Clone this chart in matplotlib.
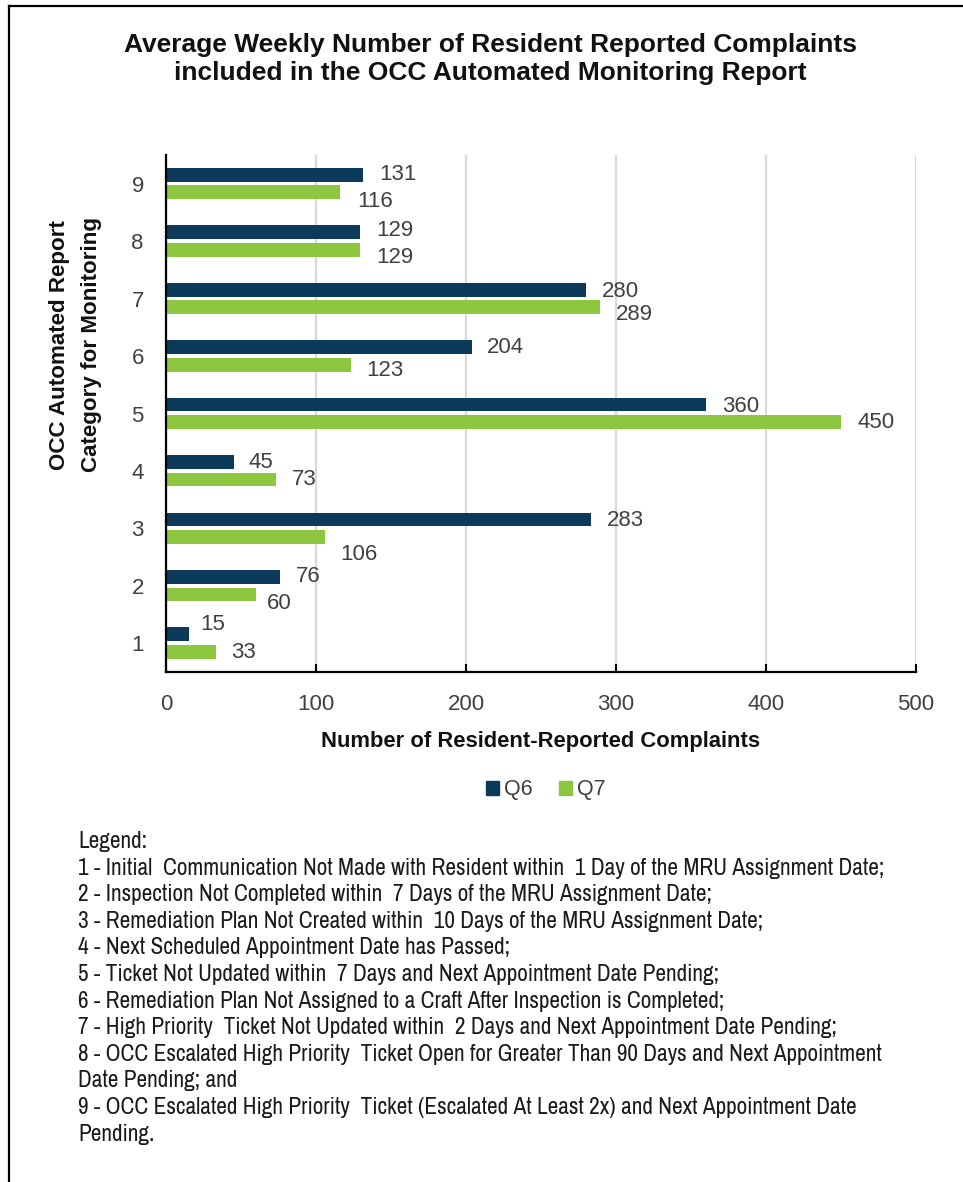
import matplotlib
matplotlib.use("Agg")
import matplotlib.pyplot as plt
from matplotlib import font_manager
from matplotlib.font_manager import FontProperties
from matplotlib.lines import Line2D
from matplotlib.patches import Patch
from matplotlib.textpath import TextPath
import numpy as np

categories = [1, 2, 3, 4, 5, 6, 7, 8, 9]
q6 = [15, 76, 283, 45, 360, 204, 280, 129, 131]
q7 = [33, 60, 106, 73, 450, 123, 289, 129, 116]
series_names = ["Q6", "Q7"]
x_ticks = [0, 100, 200, 300, 400, 500]

title_lines = [
    "Average Weekly Number of Resident Reported Complaints",
    "included in the OCC Automated Monitoring Report",
]
x_title = "Number of Resident-Reported Complaints"
y_title_lines = ["OCC Automated Report", "Category for Monitoring"]
legend_lines = [
    "Legend:",
    "1 - Initial  Communication Not Made with Resident within  1 Day of the MRU Assignment Date;",
    "2 - Inspection Not Completed within  7 Days of the MRU Assignment Date;",
    "3 - Remediation Plan Not Created within  10 Days of the MRU Assignment Date;",
    "4 - Next Scheduled Appointment Date has Passed;",
    "5 - Ticket Not Updated within  7 Days and Next Appointment Date Pending;",
    "6 - Remediation Plan Not Assigned to a Craft After Inspection is Completed;",
    "7 - High Priority  Ticket Not Updated within  2 Days and Next Appointment Date Pending;",
    "8 - OCC Escalated High Priority  Ticket Open for Greater Than 90 Days and Next Appointment",
    "Date Pending; and",
    "9 - OCC Escalated High Priority  Ticket (Escalated At Least 2x) and Next Appointment Date",
    "Pending.",
]

# label nudges in pixels (dx right, dy down), as placed in the original
q6_label_dx = [12, 16, 16, 15, 16, 15, 16, 17, 17]
q6_label_dy = [-10, 0, 1, 0, 2, 0, 2, -2, 0]
q7_label_dx = [16, 11, 15, 16, 16, 16, 16, 17, 17]
q7_label_dy = [1, 9, 17, 0, 0, 6, 7, 8, 9]

NAVY = "#0c3a5b"
GREEN = "#8dc63f"
GRAY = "#404040"
INK = "#111111"
REGULAR = "Liberation Sans"


def narrow_font(bold):
    # an installed narrow / condensed sans face, if there is one
    best = None
    for f in font_manager.fontManager.ttflist:
        condensed = ("Narrow" in f.name or "Condensed" in f.name
                     or f.stretch in ("condensed", "semi-condensed", "extra-condensed"))
        if not condensed or "Mono" in f.name or "Serif" in f.name or f.style != "normal":
            continue
        w = f.weight if isinstance(f.weight, int) else (700 if f.weight == "bold" else 400)
        if (w >= 600) != bold:
            continue
        score = 0 if "Narrow" in f.name else 1
        if best is None or score < best[0]:
            best = (score, f.fname)
    return FontProperties(fname=best[1]) if best else None


def candidates(bold):
    out = [FontProperties(family=REGULAR, weight="bold" if bold else "normal")]
    nf = narrow_font(bold)
    if nf is not None:
        out.append(nf)
    return out


W, H = 963, 1182
fig = plt.figure(figsize=(W / 100, H / 100), dpi=100)
renderer = fig.canvas.get_renderer()


def fx(px):
    return px / W


def fy(py):
    return 1 - py / H


def pick(s, width_px, cap_px, bold):
    # choose face and size so the text spans width_px with caps about cap_px tall
    best = None
    for fp in candidates(bold):
        t = fig.text(0, 0, s, fontproperties=fp, fontsize=10)
        w10 = t.get_window_extent(renderer).width
        t.remove()
        cap_ratio = TextPath((0, 0), "H", size=100, prop=fp).get_extents().height / 100
        size_w = 10 * width_px / w10
        size_h = cap_px / (cap_ratio * 100 / 72)
        size = min(size_w, size_h)
        score = min(size / size_w, size / size_h)
        if best is None or score > best[0] + 0.02:
            best = (score, fp, size)
    return best[1], best[2]


ax = fig.add_axes([fx(166), fy(672), fx(916) - fx(166), (672 - 155) / H])

y = np.array(categories)
ax.barh(y + 0.155, q6, height=0.24, color=NAVY, label=series_names[0], zorder=3)
ax.barh(y - 0.15, q7, height=0.24, color=GREEN, label=series_names[1], zorder=3)

for i, cat in enumerate(categories):
    ax.annotate(str(q6[i]), (q6[i], cat + 0.155),
                xytext=(q6_label_dx[i] * 0.72, -q6_label_dy[i] * 0.72),
                textcoords="offset points", va="center", ha="left",
                fontsize=16, color=GRAY, family=REGULAR)
    ax.annotate(str(q7[i]), (q7[i], cat - 0.15),
                xytext=(q7_label_dx[i] * 0.72, -q7_label_dy[i] * 0.72),
                textcoords="offset points", va="center", ha="left",
                fontsize=16, color=GRAY, family=REGULAR)

ax.set_xlim(0, 500)
ax.set_ylim(0.5, 9.5)
ax.set_xticks(x_ticks)
ax.set_yticks(categories)
ax.set_yticklabels([str(c) for c in categories], family=REGULAR, fontsize=16, color=GRAY)
ax.set_xticklabels([str(t) for t in x_ticks], family=REGULAR, fontsize=16, color=GRAY)
ax.tick_params(axis="x", direction="in", length=6, width=1.5, color="black", pad=16)
ax.tick_params(axis="y", length=0, pad=16)
ax.grid(axis="x", color="#d9d9d9", linewidth=1.6, zorder=0)
ax.set_axisbelow(True)
for side in ("top", "right"):
    ax.spines[side].set_visible(False)
for side in ("left", "bottom"):
    ax.spines[side].set_linewidth(1.6)
    ax.spines[side].set_color("black")
    ax.spines[side].set_zorder(4)

# titles
fp, size = pick(title_lines[0], 734, 20, True)
fig.text(fx(490), fy(45), title_lines[0], ha="center", va="center",
         fontproperties=fp, fontsize=size, color=INK)
fig.text(fx(490), fy(73), title_lines[1], ha="center", va="center",
         fontproperties=fp, fontsize=size, color=INK)

fp, size = pick(x_title, 438, 17.5, True)
fig.text(fx(541), fy(742), x_title, ha="center", va="center",
         fontproperties=fp, fontsize=size, color=INK)

fp, size = pick(y_title_lines[0], 250, 17.5, True)
fig.text(fx(60), fy(345), y_title_lines[0], ha="center", va="center", rotation=90,
         fontproperties=fp, fontsize=size, color=INK)
fig.text(fx(91), fy(345), y_title_lines[1], ha="center", va="center", rotation=90,
         fontproperties=fp, fontsize=size, color=INK)

handles = [Patch(color=NAVY), Patch(color=GREEN)]
fig.legend(handles, series_names, loc="center", bbox_to_anchor=(fx(546), fy(790)),
           ncol=2, frameon=False, handlelength=0.6, handleheight=0.6,
           handletextpad=0.25, columnspacing=1.2,
           prop={"family": REGULAR, "size": 15.5}, labelcolor=GRAY)

fp, size = pick(legend_lines[1], 809, 16.3, False)
for i, line in enumerate(legend_lines):
    fig.text(fx(78), fy(848 + i * 26.6), line, ha="left", va="baseline",
             fontproperties=fp, fontsize=size, color="#1a1a1a")

# frame around the chart (only left and top edges visible)
fig.add_artist(Line2D([fx(8.5), fx(8.5)], [fy(6), 0], color="black", linewidth=1.6))
fig.add_artist(Line2D([fx(8.5), 1], [fy(6), fy(6)], color="black", linewidth=1.6))

fig.savefig("out.png", dpi=100, facecolor="white")
